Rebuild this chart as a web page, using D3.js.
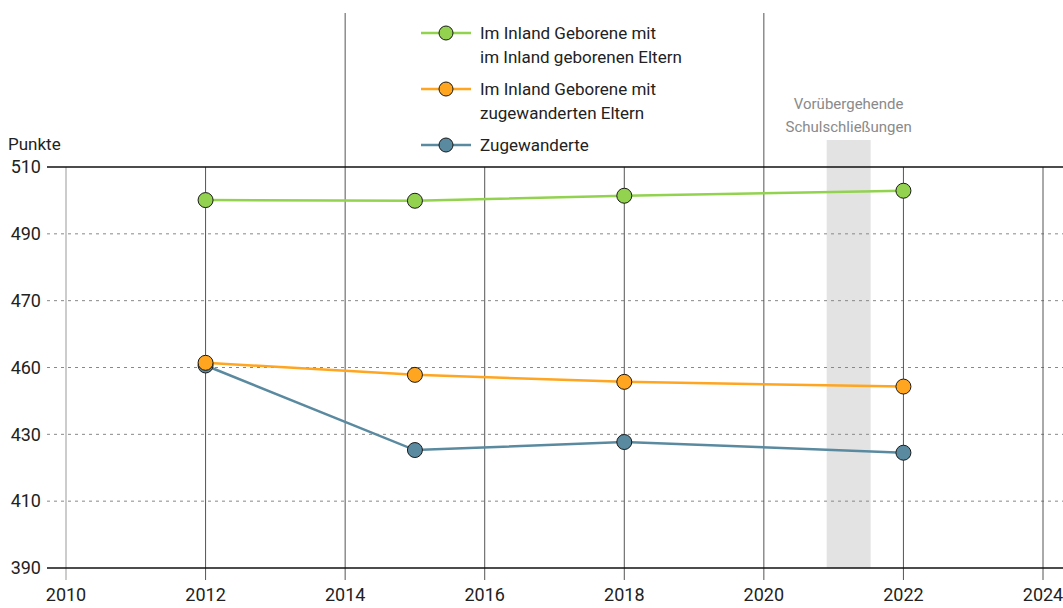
<html><head>
<script src="https://d3js.org/d3.v7.min.js"></script>
<style>
  body { margin: 0; background: #fff; }
  text { font-family: Roboto, sans-serif; fill: #222; }
</style>
</head>
<body>
<svg id="chart" width="1063" height="608"></svg>
<script>
  // data
  const years = [2012, 2015, 2018, 2022];
  const inlandEltern = [500.1, 499.9, 501.4, 502.9];
  const zugewEltern = [451.4, 447.8, 445.7, 444.3];
  const zugewanderte = [450.6, 425.3, 427.7, 424.5];

  const seriesNames = [
    ["Im Inland Geborene mit", "im Inland geborenen Eltern"],
    ["Im Inland Geborene mit", "zugewanderten Eltern"],
    ["Zugewanderte"]
  ];
  const seriesColors = ["#92d24f", "#ffa51f", "#5a8aa0"];

  const yTicks = [390, 410, 430, 450, 470, 490, 510];
  const yTickLabels = ["390", "410", "430", "460", "470", "490", "510"];
  const xTicks = [2010, 2012, 2014, 2016, 2018, 2020, 2022, 2024];
  const closure = [2020.9, 2021.53];

  const svg = d3.select("#chart");
  const x = d3.scaleLinear().domain([2010, 2024]).range([66, 1043]);
  const y = d3.scaleLinear().domain([390, 510]).range([568, 167]);

  // school closures band
  svg.append("rect")
     .attr("x", x(closure[0])).attr("width", x(closure[1]) - x(closure[0]))
     .attr("y", 140).attr("height", y(390) - 140)
     .attr("fill", "#e3e3e3");
  svg.append("text")
     .attr("x", x((closure[0] + closure[1]) / 2)).attr("y", 109)
     .attr("text-anchor", "middle").style("font-size", "15px").style("fill", "#8a8a8a")
     .selectAll("tspan").data(["Vorübergehende", "Schulschließungen"]).join("tspan")
     .attr("x", x((closure[0] + closure[1]) / 2)).attr("dy", (d, i) => i ? 23 : 0)
     .text(d => d);

  // dotted horizontal gridlines
  svg.selectAll("line.hgrid").data(yTicks.slice(1, -1)).join("line")
     .attr("class", "hgrid")
     .attr("x1", 47).attr("x2", 1063)
     .attr("y1", d => y(d)).attr("y2", d => y(d))
     .attr("stroke", "#888").attr("stroke-dasharray", "3,4");

  // vertical gridlines, 2014 and 2020 run up to the top
  svg.selectAll("line.vgrid").data(xTicks).join("line")
     .attr("class", "vgrid")
     .attr("x1", d => x(d)).attr("x2", d => x(d))
     .attr("y1", d => (d === 2014 || d === 2020) ? 13 : y(510))
     .attr("y2", y(390) + 12)
     .attr("stroke", d => d === 2010 ? "#999" : "#555").attr("stroke-width", 1);

  // top and bottom axis lines
  [510, 390].forEach(v => {
    svg.append("line").attr("x1", 47).attr("x2", 1063)
       .attr("y1", y(v)).attr("y2", y(v))
       .attr("stroke", "#111").attr("stroke-width", 1.5);
  });

  // y labels
  svg.selectAll("text.ylab").data(yTicks).join("text")
     .attr("class", "ylab")
     .attr("x", 41).attr("y", d => y(d)).attr("dy", "0.35em")
     .attr("text-anchor", "end").style("font-size", "18px")
     .text((d, i) => yTickLabels[i]);
  svg.append("text").attr("x", 8).attr("y", 150)
     .style("font-size", "17px").text("Punkte");

  // x labels
  svg.selectAll("text.xlab").data(xTicks).join("text")
     .attr("class", "xlab")
     .attr("x", d => x(d)).attr("y", 601)
     .attr("text-anchor", "middle").style("font-size", "18px")
     .text(d => d);

  // series
  const allSeries = [inlandEltern, zugewEltern, zugewanderte];
  const line = d3.line().x(d => x(d[0])).y(d => y(d[1]));
  const drawOrder = [2, 1, 0];
  drawOrder.forEach(i => {
    const pts = years.map((yr, j) => [yr, allSeries[i][j]]);
    svg.append("path").datum(pts)
       .attr("d", line).attr("fill", "none")
       .attr("stroke", seriesColors[i]).attr("stroke-width", 2.5);
  });
  drawOrder.forEach(i => {
    const pts = years.map((yr, j) => [yr, allSeries[i][j]]);
    svg.selectAll(null).data(pts).join("circle")
       .attr("cx", d => x(d[0])).attr("cy", d => y(d[1])).attr("r", 7.5)
       .attr("fill", seriesColors[i]).attr("stroke", "#1a1a1a").attr("stroke-width", 1);
  });

  // legend
  const legendY = [33, 89, 145];
  seriesNames.forEach((name, i) => {
    const g = svg.append("g").attr("transform", `translate(0, ${legendY[i]})`);
    g.append("line").attr("x1", 421).attr("x2", 471)
     .attr("stroke", seriesColors[i]).attr("stroke-width", 2.5);
    g.append("circle").attr("cx", 446).attr("r", 7)
     .attr("fill", seriesColors[i]).attr("stroke", "#1a1a1a");
    g.append("text").attr("x", 480).attr("y", 0).attr("dy", "0.35em")
     .style("font-size", "17px")
     .selectAll("tspan").data(name).join("tspan")
     .attr("x", 480).attr("dy", (d, k) => k ? 24 : "0.35em")
     .text(d => d);
  });
</script>
</body>
</html>
